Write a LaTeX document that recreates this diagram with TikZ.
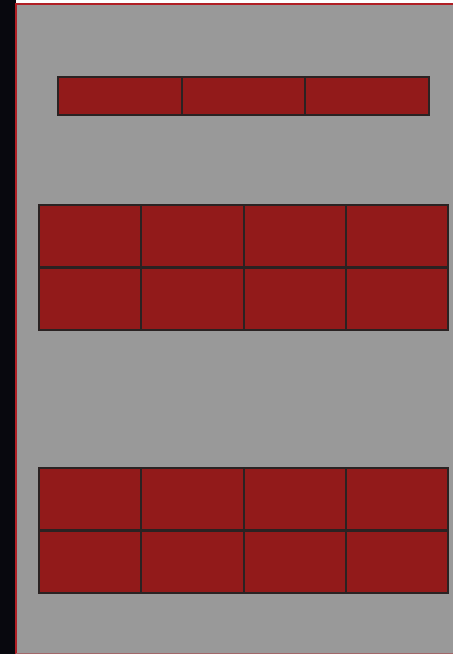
\documentclass[tikz,border=0pt]{standalone}
\begin{document}
\begin{tikzpicture}[x=1pt,y=-1pt,
  cell/.style={draw=edgec,fill=cellred,line width=2pt,minimum width=#1,minimum height=62pt,inner sep=0pt,outer sep=0pt,anchor=north west},
  cellA/.style={draw=edgec,fill=cellred,line width=2pt,minimum width=123.7pt,minimum height=38pt,inner sep=0pt,outer sep=0pt,anchor=north west}]
\definecolor{cellred}{HTML}{921A1A}
\definecolor{edgec}{HTML}{2A2222}
\definecolor{bggray}{HTML}{999999}
\definecolor{darkstrip}{HTML}{08080E}
\definecolor{framered}{HTML}{B01E24}
\useasboundingbox (0,0) rectangle (453,654);
\fill[darkstrip] (0,0) rectangle (16,654);
\fill[bggray] (16,3) rectangle (453,654);
\draw[framered,line width=1.6pt] (16,654) -- (16,4) -- (453,4);
\draw[framered!40!bggray,line width=1pt] (16,653.5) -- (453,653.5);
% top row
\foreach \i in {0,1,2}{
  \node[cellA] (t\i) at ({58+\i*123.7},77) {};
}
% middle grid
\foreach \r/\y in {0/205,1/268}{
  \foreach \i in {0,1,2,3}{
    \node[cell=102.25pt] (m\r\i) at ({39+\i*102.25},\y) {};
  }
}
% bottom grid
\foreach \r/\y in {0/468,1/531}{
  \foreach \i in {0,1,2,3}{
    \node[cell=102.25pt] (b\r\i) at ({39+\i*102.25},\y) {};
  }
}
\end{tikzpicture}
\end{document}
